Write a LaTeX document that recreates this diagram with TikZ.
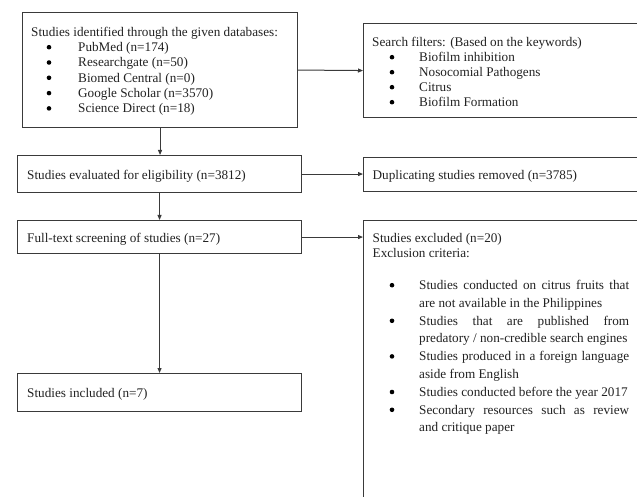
\documentclass[tikz,border=0pt]{standalone}
\usepackage{fontspec}
\setmainfont{Liberation Serif}
\usetikzlibrary{arrows.meta}
\definecolor{linecol}{HTML}{3A3A3A}
\definecolor{textcol}{HTML}{222222}
\tikzset{
  box/.style={draw=linecol, line width=1.1pt, rectangle, inner sep=0pt, anchor=north west},
  txt/.style={inner sep=0pt, anchor=base west, text=textcol, font=\fontsize{13.2pt}{15.3pt}\selectfont},
  bul/.style={circle, fill=black, inner sep=0pt, minimum size=4.6pt, yshift=4.3pt},
  arr/.style={draw=linecol, line width=1pt, -{Triangle[length=5pt,width=4pt]}}
}
\newcommand{\jline}[1]{\makebox[210pt][s]{#1}}
\begin{document}
\begin{tikzpicture}[x=1pt,y=-1pt]
\useasboundingbox (0,0) rectangle (637,497);
\clip (0,0) rectangle (637,497);
\fill[white] (0,0) rectangle (637,497);

% boxes
\node[box, minimum width=275pt, minimum height=115pt] (src) at (22,12) {};
\node[box, minimum width=300pt, minimum height=94pt] (filt) at (363,23) {};
\node[box, minimum width=284pt, minimum height=37pt] (elig) at (17,155) {};
\node[box, minimum width=300pt, minimum height=34pt] (dup) at (363,157) {};
\node[box, minimum width=284pt, minimum height=33pt] (full) at (17,220) {};
\node[box, minimum width=300pt, minimum height=320pt] (excl) at (363,220) {};
\node[box, minimum width=284pt, minimum height=38pt] (incl) at (17,373) {};

% connectors
\draw[arr] (src.east) -- (filt.west);
\draw[arr] (src.south) -- (src.south |- elig.north);
\draw[arr] (elig.east) -- (elig.east -| dup.west);
\draw[arr] (elig.south) -- (full.north);
\draw[arr] (full.east) -- (full.east -| excl.west);
\draw[arr] (full.south) -- (incl.north);

% source box text
\node[txt] (srch) at (31,36.5) {Studies identified through the given databases:};
\node[bul] (sb1) at (49,51.5) {};
\node[txt] (st1) at (78,51.5) {PubMed (n=174)};
\node[bul] (sb2) at (49,66.8) {};
\node[txt] (st2) at (78,66.8) {Researchgate (n=50)};
\node[bul] (sb3) at (49,82.1) {};
\node[txt] (st3) at (78,82.1) {Biomed Central (n=0)};
\node[bul] (sb4) at (49,97.4) {};
\node[txt] (st4) at (78,97.4) {Google Scholar (n=3570)};
\node[bul] (sb5) at (49,112.7) {};
\node[txt] (st5) at (78,112.7) {Science Direct (n=18)};

% filter box text
\node[txt] (fh) at (372,46.5) {Search filters: (Based on the keywords)};
\node[bul] (fb1) at (392,61.5) {};
\node[txt] (ft1) at (419,61.5) {Biofilm inhibition};
\node[bul] (fb2) at (392,76.5) {};
\node[txt] (ft2) at (419,76.5) {Nosocomial Pathogens};
\node[bul] (fb3) at (392,91.5) {};
\node[txt] (ft3) at (419,91.5) {Citrus};
\node[bul] (fb4) at (392,106.5) {};
\node[txt] (ft4) at (419,106.5) {Biofilm Formation};

% single-line boxes
\node[txt] (et) at (27,179.5) {Studies evaluated for eligibility (n=3812)};
\node[txt] (dt) at (372.5,179.5) {Duplicating studies removed (n=3785)};
\node[txt] (ftx) at (27,242.5) {Full-text screening of studies (n=27)};
\node[txt] (it) at (27,397.5) {Studies included (n=7)};

% exclusion box text
\node[txt] (xh1) at (372.5,242.5) {Studies excluded (n=20)};
\node[txt] (xh2) at (372.5,257) {Exclusion criteria:};
\node[bul] (xb1) at (392,289.5) {};
\node[txt] (x1a) at (419,289.5) {\jline{Studies conducted on citrus fruits that}};
\node[txt] (x1b) at (419,307.3) {are not available in the Philippines};
\node[bul] (xb2) at (392,325.1) {};
\node[txt] (x2a) at (419,325.1) {\jline{Studies that are published from}};
\node[txt] (x2b) at (419,342.9) {predatory / non-credible search engines};
\node[bul] (xb3) at (392,360.7) {};
\node[txt] (x3a) at (419,360.7) {\jline{Studies produced in a foreign language}};
\node[txt] (x3b) at (419,378.5) {aside from English};
\node[bul] (xb4) at (392,396.3) {};
\node[txt] (x4a) at (419,396.3) {Studies conducted before the year 2017};
\node[bul] (xb5) at (392,414.1) {};
\node[txt] (x5a) at (419,414.1) {\jline{Secondary resources such as review}};
\node[txt] (x5b) at (419,431.9) {and critique paper};
\end{tikzpicture}
\end{document}
